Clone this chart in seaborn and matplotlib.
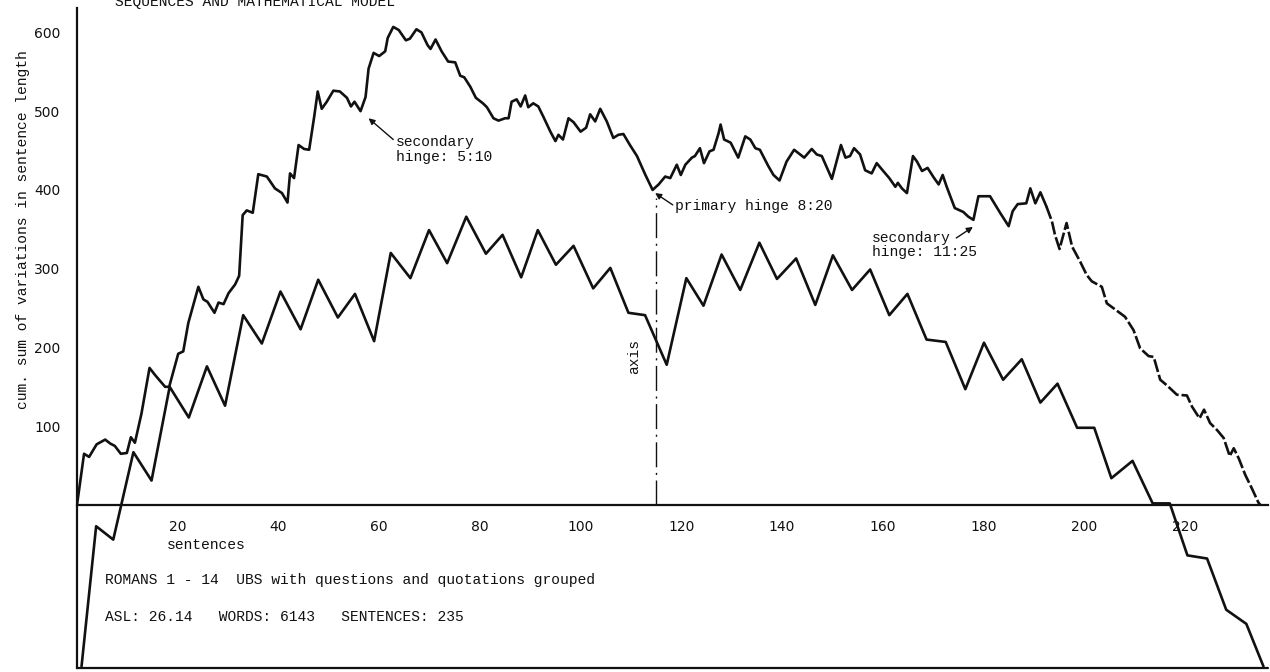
import matplotlib
matplotlib.use("Agg")
import matplotlib.pyplot as plt
import numpy as np
import pandas as pd
import seaborn as sns

# Cumulative sum of variations in sentence length (sentence index, value)
sentence_pos = [
    0.0, 1.4, 2.4, 3.9, 5.6, 6.6, 7.5, 8.7, 9.9, 10.7, 11.5, 12.8, 14.4, 15.5, 17.5,
    18.3, 19.5, 20.1, 21.1, 22.1, 24.1, 25.1, 25.9, 27.3, 28.1, 29.1, 30.1, 31.4, 32.2,
    32.9, 33.7, 34.9, 36.0, 37.7, 39.3, 40.7, 41.8, 42.3, 43.1, 44.0, 45.1, 46.1, 47.1,
    47.8, 48.6, 49.6, 50.9, 52.2, 53.6, 54.4, 55.1, 56.3, 57.3, 57.9, 58.9, 60.0, 61.2,
    61.7, 62.8, 63.9, 65.3, 66.1, 67.4, 68.4, 69.6, 70.2, 71.2, 72.4, 73.7, 75.1, 76.1,
    76.9, 78.1, 79.2, 80.6, 81.4, 82.7, 83.7, 85.0, 85.7, 86.3, 87.3, 88.1, 89.0, 89.6,
    90.6, 91.6, 92.6, 94.0, 95.0, 95.6, 96.5, 97.6, 98.6, 100.0, 101.1, 101.9, 102.9,
    103.9, 105.2, 106.5, 107.5, 108.5, 109.8, 111.2, 112.8, 114.3, 115.5, 116.8, 117.8,
    119.1, 119.9, 120.8, 122.1, 122.7, 123.7, 124.5, 125.6, 126.4, 127.4, 127.8, 128.5,
    129.8, 131.3, 132.7, 133.7, 134.7, 135.6, 137.3, 138.3, 139.5, 140.9, 142.4, 143.6,
    144.4, 145.9, 146.9, 147.9, 149.9, 150.9, 151.7, 152.6, 153.5, 154.3, 155.5, 156.5,
    157.8, 158.8, 160.1, 161.3, 162.5, 163.0, 163.8, 164.8, 166.0, 166.8, 167.8, 168.9,
    170.1, 171.1, 171.9, 172.7, 174.3, 176.0, 177.0, 178.0, 179.0, 181.3, 183.3, 185.0,
    185.8, 186.8, 188.5, 189.3, 190.3, 191.3, 192.5, 193.6, 194.2, 195.1, 196.5, 197.6,
    199.2, 200.5, 201.5, 203.5, 204.5, 206.2, 208.1, 209.8, 211.1, 212.8, 213.8, 215.1,
    216.4, 218.4, 220.4, 221.4, 222.9, 223.8, 225.0, 226.4, 227.7, 228.9, 229.7, 230.7,
    232.0, 233.3, 234.6, 235.0,
]
cum_variation = [
    0, 65, 61, 77, 83, 78, 75, 65, 66, 86, 79, 116, 174, 165, 150,
    150, 178, 192, 195, 231, 277, 261, 258, 244, 257, 255, 269, 280, 291,
    368, 374, 371, 420, 417, 402, 396, 384, 421, 415, 457, 452, 451, 493,
    525, 503, 512, 526, 525, 517, 506, 512, 500, 518, 554, 574, 570, 576,
    593, 607, 603, 590, 592, 604, 600, 584, 579, 591, 576, 563, 562, 545,
    543, 531, 517, 510, 505, 491, 488, 491, 491, 512, 515, 506, 520, 505,
    510, 506, 493, 474, 462, 470, 464, 491, 486, 474, 479, 496, 487,
    503, 487, 466, 470, 471, 457, 443, 420, 400, 407, 417, 415,
    432, 419, 432, 441, 443, 453, 434, 449, 451, 472, 483, 464,
    460, 441, 468, 464, 453, 451, 430, 419, 412, 436, 451, 445,
    441, 452, 445, 443, 414, 438, 457, 441, 443, 453, 445, 425,
    421, 434, 424, 415, 404, 409, 402, 396, 443, 436, 424, 428,
    416, 407, 419, 404, 377, 372, 366, 362, 392, 392, 371, 354,
    373, 382, 383, 402, 383, 397, 379, 360, 343, 325, 358, 328,
    309, 292, 284, 277, 256, 248, 239, 222, 199, 189, 188, 159,
    152, 140, 139, 125, 110, 121, 104, 95, 85, 62, 72, 59,
    38, 21, 3, 0,
]

# Mathematical model (zigzag)
model_pos = [
    0.9, 3.8, 7.2, 11.2, 14.8, 18.4, 22.2, 25.8, 29.4, 33.0, 36.7, 40.4, 44.4, 47.9,
    51.8, 55.2, 59.0, 62.3, 66.2, 69.9, 73.5, 77.3, 81.2, 84.5, 88.2, 91.5, 95.1,
    98.6, 102.5, 105.9, 109.5, 112.8, 117.1, 121.0, 124.4, 128.0, 131.7, 135.5, 139.0,
    142.8, 146.6, 150.1, 153.9, 157.5, 161.3, 164.9, 168.7, 172.5, 176.4, 180.1, 183.9,
    187.6, 191.3, 194.7, 198.6, 202.0, 205.4, 209.6, 213.6, 217.0, 220.5, 224.4, 228.2,
    232.2, 235.6,
]
model_value = [
    -205, -27, -44, 67, 31, 150, 111, 176, 126, 241, 205, 271, 223, 286,
    238, 268, 208, 320, 288, 349, 307, 366, 319, 343, 289, 349, 305,
    329, 275, 301, 244, 241, 178, 288, 253, 318, 273, 333, 287,
    313, 254, 317, 273, 299, 241, 268, 210, 207, 147, 206, 159,
    185, 130, 154, 98, 98, 34, 56, 2, 2, -64, -68, -133,
    -151, -205,
]

x_ticks = [20, 40, 60, 80, 100, 120, 140, 160, 180, 200, 220]
y_ticks = [100, 200, 300, 400, 500, 600]
x_range = (0, 236.5)
y_range = (-207, 631)

primary_hinge = 115
axis_top = 390
dash_from = 192.5

sns.set_theme(style="white")
plt.rcParams["font.family"] = ["Liberation Mono", "DejaVu Sans Mono"]
mono = 10.5
ink = "#111111"

fig = plt.figure(figsize=(12.7, 6.72), dpi=100)
fig.patch.set_facecolor("white")
ax = fig.add_axes([77 / 1270, 4 / 672, 1191 / 1270, 660 / 672])
ax.set_facecolor("white")

data = pd.DataFrame({"sentence": sentence_pos, "cumsum": cum_variation})
solid = data[data["sentence"] <= dash_from]
tail = data[data["sentence"] >= dash_from]
model = pd.DataFrame({"sentence": model_pos, "value": model_value})

sns.lineplot(data=solid, x="sentence", y="cumsum", estimator=None, sort=False,
             color=ink, lw=1.9, ax=ax)
sns.lineplot(data=tail, x="sentence", y="cumsum", estimator=None, sort=False,
             color=ink, lw=1.9, ax=ax)
ax.lines[-1].set_dashes((5, 1.1))
sns.lineplot(data=model, x="sentence", y="value", estimator=None, sort=False,
             color=ink, lw=1.9, ax=ax)

# symmetry axis through the primary hinge
ax.vlines(primary_hinge, 0, axis_top, colors=ink, lw=1.0,
          linestyles=[(0, (18, 4, 1.5, 4))])
ax.text(primary_hinge - 4.4, 188, "axis", rotation=90, ha="center", va="center",
        fontsize=mono, color=ink)

ax.set_xlim(*x_range)
ax.set_ylim(*y_range)
ax.set_xticks(x_ticks)
ax.set_yticks(y_ticks)
ax.set_xlabel("")
ax.set_ylabel("")
ax.spines["top"].set_visible(False)
ax.spines["right"].set_visible(False)
ax.spines["bottom"].set_position(("data", 0))
for side in ("left", "bottom"):
    ax.spines[side].set_linewidth(1.6)
    ax.spines[side].set_color(ink)
ax.axhline(y_range[0], color=ink, lw=1.6, clip_on=False)

ax.tick_params(axis="x", direction="out", length=4, width=1, pad=7,
               labelsize=10, colors=ink)
ax.tick_params(axis="y", direction="out", length=4, width=1, pad=8,
               labelsize=10, colors=ink)
for lbl in ax.get_xticklabels() + ax.get_yticklabels():
    lbl.set_fontfamily("DejaVu Sans")

ax.text(17.8, -51, "sentences", ha="left", va="center", fontsize=mono, color=ink)
ax.text(5.6, -95, "ROMANS 1 - 14  UBS with questions and quotations grouped",
        ha="left", va="center", fontsize=mono, color=ink)
ax.text(5.6, -142, "ASL: 26.14   WORDS: 6143   SENTENCES: 235",
        ha="left", va="center", fontsize=mono, color=ink)

arrow = dict(arrowstyle="-|>", color=ink, lw=1.0, mutation_scale=9,
             shrinkA=0, shrinkB=0)
ax.annotate("", xy=(57.9, 491), xytext=(62.8, 464), arrowprops=arrow)
ax.text(63.4, 451, "secondary\nhinge: 5:10", ha="left", va="center",
        fontsize=mono, color=ink, linespacing=1.05)
ax.annotate("", xy=(114.8, 396), xytext=(118.3, 381), arrowprops=arrow)
ax.text(118.8, 379, "primary hinge 8:20", ha="left", va="center",
        fontsize=mono, color=ink)
ax.annotate("", xy=(177.9, 353), xytext=(174.6, 339), arrowprops=arrow)
ax.text(157.8, 330, "secondary\nhinge: 11:25", ha="left", va="center",
        fontsize=mono, color=ink, linespacing=1.05)

fig.text(23 / 1270, 1 - 230 / 672, "cum. sum of variations in sentence length",
         rotation=90, ha="center", va="center", fontsize=mono, color=ink)
fig.text(115 / 1270, 1 - 2 / 672, "SEQUENCES AND MATHEMATICAL MODEL",
         ha="left", va="center", fontsize=mono, color=ink)

fig.savefig("out.png", dpi=100, facecolor="white")
